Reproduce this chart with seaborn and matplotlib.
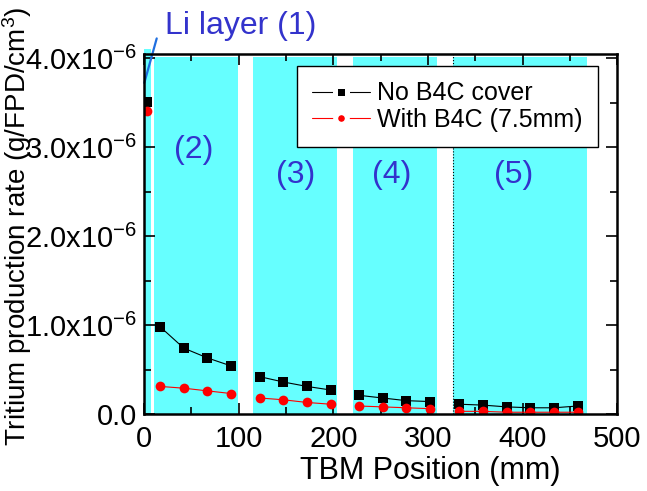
import matplotlib
matplotlib.use("Agg")
import matplotlib.pyplot as plt
import seaborn as sns
import pandas as pd
from matplotlib.lines import Line2D

# TBM positions (mm) and region index of each point
positions = [3, 17, 42, 67, 92, 122, 147, 172, 197, 227, 252, 277, 302, 333, 358, 383, 408, 433, 458]
regions = [1, 2, 2, 2, 2, 3, 3, 3, 3, 4, 4, 4, 4, 5, 5, 5, 5, 5, 5]

# tritium production rate (g/FPD/cm3)
no_b4c = [3.51e-6, 0.98e-6, 0.74e-6, 0.63e-6, 0.54e-6, 0.42e-6, 0.36e-6, 0.31e-6, 0.27e-6,
          0.21e-6, 0.18e-6, 0.15e-6, 0.14e-6, 0.11e-6, 0.10e-6, 0.08e-6, 0.07e-6, 0.07e-6, 0.09e-6]
with_b4c = [3.41e-6, 0.31e-6, 0.29e-6, 0.26e-6, 0.23e-6, 0.18e-6, 0.16e-6, 0.13e-6, 0.11e-6,
            0.09e-6, 0.08e-6, 0.07e-6, 0.06e-6, 0.03e-6, 0.03e-6, 0.02e-6, 0.02e-6, 0.02e-6, 0.02e-6]

series_names = ["No B4C cover", "With B4C (7.5mm)"]

# layer regions (mm)
region_start = [0, 10.5, 115, 221, 326]
region_end = [7.5, 99, 204, 309, 468]
region_labels = ["(2)", "(3)", "(4)", "(5)"]
region_label_x = [52, 160, 262, 390]
region_label_y = [2.97e-6, 2.69e-6, 2.69e-6, 2.69e-6]

yticks = [0, 1e-6, 2e-6, 3e-6, 4e-6]
ytick_labels = ["0.0", "1.0x10$^{-6}$", "2.0x10$^{-6}$", "3.0x10$^{-6}$", "4.0x10$^{-6}$"]
xticks = [0, 100, 200, 300, 400, 500]

df = pd.DataFrame({
    "position": positions * 2,
    "region": regions * 2,
    "rate": no_b4c + with_b4c,
    "series": [series_names[0]] * len(positions) + [series_names[1]] * len(positions),
})

sns.set_style("ticks")
plt.rcParams["font.family"] = ["Liberation Sans", "DejaVu Sans"]
plt.rcParams["mathtext.fontset"] = "custom"
plt.rcParams["mathtext.rm"] = "Liberation Sans"
plt.rcParams["mathtext.it"] = "Liberation Sans:italic"
for key in ["text.color", "axes.labelcolor", "xtick.color", "ytick.color", "axes.edgecolor"]:
    plt.rcParams[key] = "black"

fig = plt.figure(figsize=(6.47, 4.91), dpi=100)
ax = fig.add_axes([0.2226, 0.1568, 0.7318, 0.7332])

cyan = "#66ffff"
blue = "#3333cc"

for i, (s, e) in enumerate(zip(region_start, region_end)):
    if i == 0:
        ax.axvspan(s, e, ymin=0, ymax=1.015, color=cyan, lw=0, zorder=0, clip_on=False)
    else:
        ax.axvspan(s, e, ymin=0, ymax=0.992, color=cyan, lw=0, zorder=0)
ax.axvline(326, color="black", ls=":", lw=0.8, zorder=1)

palette = {series_names[0]: "black", series_names[1]: "red"}
markers = {series_names[0]: "s", series_names[1]: "o"}
sns.lineplot(data=df, x="position", y="rate", hue="series", style="series",
             units="region", estimator=None, palette=palette, markers=markers,
             dashes=False, markersize=7, linewidth=0.8, markeredgewidth=0,
             legend=False, ax=ax, zorder=3)

for lab, lx, ly in zip(region_labels, region_label_x, region_label_y):
    ax.text(lx, ly, lab, color=blue, fontsize=23, ha="center", va="center")

ax.text(22, 4.36e-6, "Li layer (1)", color=blue, fontsize=23, ha="left", va="center")
ax.annotate("", xy=(0.3, 3.72e-6), xytext=(13.4, 4.22e-6), annotation_clip=False,
            arrowprops=dict(arrowstyle="-", color="#1f6fe0", lw=1.6, shrinkA=0, shrinkB=0))

ax.set_xlim(0, 500)
ax.set_ylim(0, 4.045e-6)
ax.set_xticks(xticks)
ax.set_xticks(range(50, 500, 100), minor=True)
ax.set_yticks(yticks)
ax.set_yticklabels(ytick_labels)
ax.set_yticks([0.5e-6, 1.5e-6, 2.5e-6, 3.5e-6], minor=True)
ax.tick_params(which="both", direction="in", top=True, right=True, width=1.2, labelsize=21)
ax.tick_params(which="major", length=8)
ax.tick_params(which="minor", length=5)
ax.tick_params(axis="x", pad=8)
ax.tick_params(axis="y", pad=5)
for sp in ax.spines.values():
    sp.set_linewidth(1.8)
    sp.set_zorder(5)

ax.set_xlabel("TBM Position (mm)", fontsize=22)
ax.set_ylabel("Tritium production rate (g/FPD/cm$^3$)", fontsize=20)
ax.xaxis.set_label_coords(0.605, -0.118)
ax.yaxis.set_label_coords(-0.232, 0.522)

handles = [
    Line2D([], [], color="black", lw=0.8, marker="s", markersize=8,
           markerfacecolor="black", markeredgecolor="white", markeredgewidth=3.6),
    Line2D([], [], color="red", lw=0.8, marker="o", markersize=8.4,
           markerfacecolor="red", markeredgecolor="white", markeredgewidth=3.6),
]
leg = ax.legend(handles, series_names, loc="upper right", bbox_to_anchor=(0.958, 0.966),
                borderaxespad=0, fontsize=18, frameon=True, fancybox=False,
                edgecolor="black", framealpha=1, handlelength=2.3, handletextpad=0.3,
                borderpad=0.6, labelspacing=0.1)
leg.get_frame().set_linewidth(1.0)
leg.set_zorder(6)

fig.savefig("out.png", dpi=100)
